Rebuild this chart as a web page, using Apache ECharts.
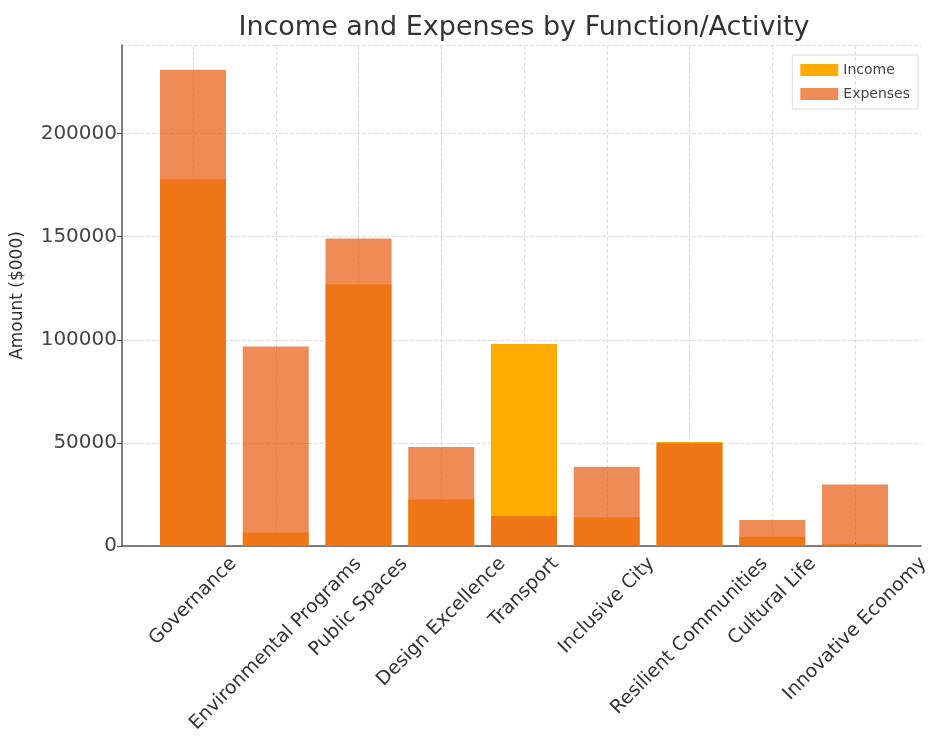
<!DOCTYPE html>
<html>
<head>
<meta charset="utf-8">
<title>Income and Expenses by Function/Activity</title>
<script src="https://cdn.jsdelivr.net/npm/echarts@6/dist/echarts.min.js"></script>
<style>
html,body{margin:0;padding:0;background:#fff;}
#main-echarts{width:931px;height:736px;}
</style>
</head>
<body>
<div id="main-echarts"></div>
<script>
// 类别
var categories = ['Governance', 'Environmental Programs', 'Public Spaces', 'Design Excellence', 'Transport',
	'Inclusive City', 'Resilient Communities', 'Cultural Life', 'Innovative Economy'];
// 收入 ($000)
var income = [178000, 6500, 127000, 22500, 98000, 14000, 50500, 4500, 1000];
// 支出 ($000)
var expenses = [231000, 96800, 149200, 48000, 14500, 38400, 50000, 12600, 29800];
var yTicks = [0, 50000, 100000, 150000, 200000];

var font = 'DejaVu Sans';
var labelSize = 19;
var yMax = 243000;

// 旋转45度的标签按中心对齐 (像 ha='center'): 水平用padding, 垂直用空行
var ctx = document.createElement('canvas').getContext('2d');
ctx.font = labelSize + 'px "' + font + '"';
var xData = [];
var labelRich = {};
for (var i = 0; i < categories.length; i++) {
	var w = ctx.measureText(categories[i]).width;
	var p = Math.round((w + labelSize) / 2);
	labelRich['g' + i] = { height: p, lineHeight: p, fontSize: 1 };
	xData.push({
		value: categories[i],
		textStyle: { padding: [0, p, 0, 0], align: 'center', verticalAlign: 'middle' }
	});
}
labelRich.t = { fontFamily: font, fontSize: labelSize, color: '#333', lineHeight: labelSize + 2 };

var option = {
	animation: false,
	backgroundColor: '#fff',
	title: {
		text: 'Income and Expenses by Function/Activity',
		left: 519, top: 9, textAlign: 'center',
		textStyle: { fontFamily: font, fontSize: 27, fontWeight: 'normal', color: '#333' }
	},
	legend: {
		data: ['Income', 'Expenses'],
		orient: 'vertical',
		right: 13, top: 55,
		icon: 'rect',
		itemWidth: 38, itemHeight: 12, itemGap: 10,
		padding: [8, 8, 8, 8],
		borderColor: '#ddd', borderWidth: 1,
		textStyle: { fontFamily: font, fontSize: 14, color: '#444' }
	},
	grid: [
		// 坐标框
		{ left: 122, right: 10, top: 45, bottom: 190, outerBoundsMode: 'none', containLabel: false },
		// 柱子
		{ left: 193, right: 76, top: 45, bottom: 190, outerBoundsMode: 'none', containLabel: false }
	],
	xAxis: [
		{
			gridIndex: 0, type: 'value', min: 0, max: 1,
			axisLine: { show: true, lineStyle: { color: '#555', width: 1.5 } },
			axisTick: { show: false }, axisLabel: { show: false }, splitLine: { show: false }
		},
		{
			gridIndex: 1, type: 'category', data: xData, boundaryGap: false,
			axisLine: { show: false },
			axisTick: { show: true, inside: true, length: 4, alignWithLabel: true, lineStyle: { color: '#555' } },
			axisLabel: {
				interval: 0, rotate: 45, margin: 8, align: 'center', verticalAlign: 'middle',
				fontFamily: font, fontSize: labelSize, color: '#333', hideOverlap: false,
				formatter: function(value, index){
					return '{g' + index + '| }\n{t|' + value + '}';
				},
				rich: labelRich
			},
			splitLine: { show: true, lineStyle: { color: '#ddd', type: 'dashed', width: 1 } }
		}
	],
	yAxis: [
		{
			gridIndex: 0, type: 'value', min: 0, max: yMax, interval: 50000,
			name: 'Amount ($000)', nameLocation: 'middle', nameGap: 96, nameRotate: 90,
			nameTextStyle: { fontFamily: font, fontSize: 17, color: '#333' },
			axisLine: { show: true, lineStyle: { color: '#555', width: 1.5 } },
			axisTick: { show: true, length: 5, lineStyle: { color: '#555' } },
			axisLabel: {
				showMaxLabel: false, fontFamily: font, fontSize: 20, color: '#444', margin: 5,
				formatter: function(value){
					return yTicks.indexOf(value) > -1 ? String(value) : '';
				}
			},
			splitLine: { show: true, lineStyle: { color: '#ddd', type: 'dashed', width: 1 } }
		},
		{
			gridIndex: 1, type: 'value', min: 0, max: yMax,
			axisLine: { show: false }, axisTick: { show: false }, axisLabel: { show: false }, splitLine: { show: false }
		}
	],
	series: [
		{
			name: 'Income', type: 'bar', xAxisIndex: 1, yAxisIndex: 1,
			barWidth: 66, barGap: '-100%',
			itemStyle: { color: '#ffab00' },
			data: income
		},
		{
			name: 'Expenses', type: 'bar', xAxisIndex: 1, yAxisIndex: 1,
			barWidth: 66, barGap: '-100%',
			itemStyle: { color: 'rgba(232,100,30,0.75)' },
			data: expenses
		}
	]
};

var myChart = echarts.init(document.getElementById('main-echarts'));
myChart.setOption(option);
</script>
</body>
</html>
